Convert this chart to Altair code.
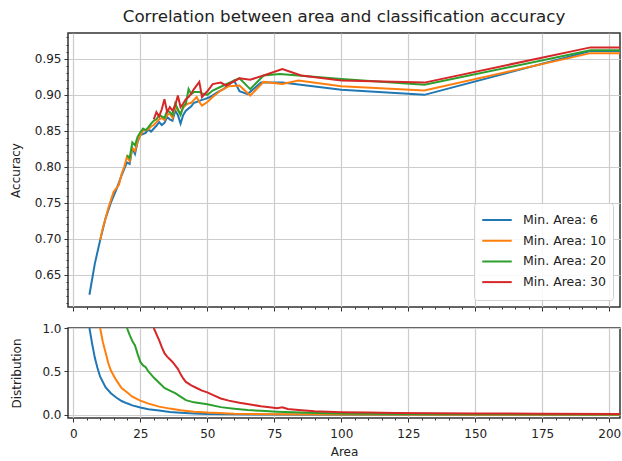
import altair as alt
import pandas as pd

SERIES = ["Min. Area: 6", "Min. Area: 10", "Min. Area: 20", "Min. Area: 30"]
COLORS = ["#1f77b4", "#ff7f0e", "#2ca02c", "#d62728"]

# ---- accuracy vs area ----
acc_area_6 = [6, 8, 10, 12, 14, 16, 18, 20, 21, 22, 23, 24, 25, 27, 28, 29, 31, 32, 33, 34, 35, 36, 37, 38,
              39, 40, 41, 42, 44, 45, 46, 48, 49, 51, 54, 56, 60, 62, 65, 70, 78, 100, 131, 193, 204]
acc_6 = [0.622, 0.665, 0.698, 0.728, 0.750, 0.768, 0.788, 0.806, 0.804, 0.826, 0.818, 0.835, 0.844, 0.847,
         0.852, 0.849, 0.857, 0.862, 0.858, 0.861, 0.869, 0.866, 0.864, 0.878, 0.872, 0.860, 0.872, 0.878,
         0.884, 0.889, 0.890, 0.893, 0.894, 0.897, 0.904, 0.908, 0.920, 0.905, 0.901, 0.917, 0.917, 0.907,
         0.900, 0.961, 0.961]

acc_area_10 = [10, 11, 12, 13, 15, 16, 17, 18, 19, 20, 21, 22, 23, 24, 25, 26, 28, 29, 30, 31, 32, 33, 34, 35,
               36, 37, 38, 39, 40, 41, 42, 43, 44, 45, 46, 47, 48, 50, 52, 55, 58, 62, 66, 71, 78, 84, 100,
               131, 193, 204]
acc_10 = [0.698, 0.715, 0.728, 0.742, 0.765, 0.770, 0.775, 0.790, 0.800, 0.814, 0.808, 0.826, 0.822, 0.836,
          0.844, 0.850, 0.852, 0.856, 0.858, 0.862, 0.866, 0.868, 0.865, 0.872, 0.874, 0.868, 0.884, 0.878,
          0.874, 0.882, 0.886, 0.888, 0.889, 0.893, 0.897, 0.890, 0.885, 0.890, 0.897, 0.906, 0.912, 0.913,
          0.899, 0.918, 0.915, 0.920, 0.912, 0.906, 0.958, 0.958]

acc_area_20 = [20, 21, 22, 23, 24, 25, 26, 27, 28, 29, 30, 31, 32, 33, 34, 35, 36, 37, 38, 39, 40, 41, 42, 43,
               44, 45, 47, 48, 50, 52, 56, 62, 66, 71, 77, 84, 100, 131, 193, 204]
acc_20 = [0.816, 0.812, 0.834, 0.830, 0.842, 0.848, 0.853, 0.851, 0.855, 0.860, 0.864, 0.866, 0.872, 0.870,
          0.868, 0.878, 0.876, 0.872, 0.888, 0.880, 0.872, 0.884, 0.888, 0.908, 0.901, 0.904, 0.904, 0.902,
          0.900, 0.906, 0.913, 0.923, 0.908, 0.927, 0.929, 0.927, 0.922, 0.914, 0.962, 0.962]

acc_area_30 = [30, 31, 32, 33, 34, 35, 36, 37, 38, 39, 40, 41, 42, 43, 44, 45, 47, 48, 50, 52, 55, 57, 62, 66,
               71, 78, 85, 100, 131, 193, 204]
acc_30 = [0.866, 0.876, 0.870, 0.880, 0.894, 0.876, 0.883, 0.878, 0.885, 0.899, 0.883, 0.888, 0.894, 0.897,
          0.902, 0.908, 0.918, 0.897, 0.905, 0.915, 0.917, 0.913, 0.923, 0.921, 0.927, 0.936, 0.927, 0.920,
          0.917, 0.966, 0.966]

# ---- distribution vs area ----
dist_area_6 = [6, 7, 8, 9, 10, 12, 14, 16, 18, 20, 22, 25, 28, 32, 36, 40, 45, 50, 60, 75, 100, 150, 204]
dist_6 = [1.0, 0.82, 0.66, 0.54, 0.44, 0.32, 0.25, 0.20, 0.16, 0.134, 0.11, 0.085, 0.066, 0.05, 0.035,
          0.026, 0.017, 0.011, 0.007, 0.004, 0.003, 0.002, 0.001]

dist_area_10 = [10, 11, 12, 13, 14, 16, 18, 20, 22, 25, 28, 32, 36, 40, 45, 50, 60, 75, 100, 150, 204]
dist_10 = [1.0, 0.84, 0.72, 0.60, 0.51, 0.40, 0.31, 0.26, 0.21, 0.165, 0.13, 0.096, 0.073, 0.055, 0.038,
           0.028, 0.015, 0.008, 0.005, 0.003, 0.002]

dist_area_20 = [20, 21, 22, 23, 24, 25, 26, 27, 28, 30, 32, 34, 36, 38, 40, 42, 45, 50, 55, 60, 65, 70, 76,
                85, 91, 100, 120, 150, 204]
dist_20 = [1.0, 0.92, 0.85, 0.80, 0.70, 0.61, 0.57, 0.55, 0.50, 0.43, 0.37, 0.31, 0.28, 0.25, 0.21, 0.17,
           0.145, 0.122, 0.09, 0.072, 0.057, 0.048, 0.038, 0.028, 0.023, 0.018, 0.011, 0.008, 0.005]

dist_area_30 = [30, 31, 32, 33, 34, 35, 36, 37, 38, 39, 40, 41, 42, 44, 46, 48, 50, 52, 55, 58, 62, 66, 70,
                74, 76, 78, 80, 84, 90, 100, 110, 120, 135, 150, 175, 204]
dist_30 = [1.0, 0.93, 0.86, 0.78, 0.71, 0.67, 0.64, 0.61, 0.57, 0.53, 0.47, 0.42, 0.38, 0.34, 0.31, 0.28,
           0.26, 0.23, 0.19, 0.165, 0.14, 0.12, 0.10, 0.085, 0.077, 0.088, 0.068, 0.058, 0.043, 0.032, 0.027,
           0.023, 0.02, 0.018, 0.014, 0.011]

x_major = [0, 25, 50, 75, 100, 125, 150, 175, 200]
x_minor = list(range(0, 201, 5))
acc_major = [0.65, 0.70, 0.75, 0.80, 0.85, 0.90, 0.95]
acc_minor = [round(0.61 + 0.01 * i, 2) for i in range(38)]
dist_major = [0.0, 0.5, 1.0]


def frame(pairs, xname, yname):
    rows = []
    for s, xs, ys in pairs:
        for a, v in zip(xs, ys):
            rows.append({"series": s, xname: a, yname: v})
    return pd.DataFrame(rows)


acc_df = frame([(SERIES[0], acc_area_6, acc_6), (SERIES[1], acc_area_10, acc_10),
                (SERIES[2], acc_area_20, acc_20), (SERIES[3], acc_area_30, acc_30)], "area", "acc")
dist_df = frame([(SERIES[0], dist_area_6, dist_6), (SERIES[1], dist_area_10, dist_10),
                 (SERIES[2], dist_area_20, dist_20), (SERIES[3], dist_area_30, dist_30)], "area", "dist")

FONT = "DejaVu Sans"
xscale = alt.Scale(domain=[-2, 204], nice=False, zero=False)
acc_scale = alt.Scale(domain=[0.605, 0.986], nice=False, zero=False)
dist_scale = alt.Scale(domain=[-0.035, 1.0], nice=False, zero=False)
cscale = alt.Scale(domain=SERIES, range=COLORS)

minor_axis = dict(labels=False, grid=False, domain=False, tickSize=2, title=None)

top_lines = alt.Chart(acc_df).mark_line(strokeWidth=2, clip=True).encode(
    x=alt.X("area:Q", scale=xscale,
            axis=alt.Axis(values=x_major, labels=False, title=None, grid=True)),
    y=alt.Y("acc:Q", scale=acc_scale,
            axis=alt.Axis(values=acc_major, format=".2f", title="Accuracy", grid=True, titlePadding=12)),
    color=alt.Color("series:N", scale=cscale, sort=SERIES,
                    legend=alt.Legend(title=None, orient="bottom-right", offset=7, symbolType="stroke",
                                      symbolSize=870, symbolStrokeWidth=2, labelFontSize=12.5,
                                      labelFont=FONT, labelColor="#222222", padding=7, rowPadding=0.7,
                                      clipHeight=20, labelOffset=10, strokeColor="#d0d0d0",
                                      fillColor="rgba(255,255,255,0.85)", cornerRadius=3)),
)
top_minor = alt.Chart(acc_df).mark_line(opacity=0).encode(
    x=alt.X("area:Q", scale=xscale, axis=alt.Axis(values=x_minor, orient="bottom", **minor_axis)),
    y=alt.Y("acc:Q", scale=acc_scale, axis=alt.Axis(values=acc_minor, orient="left", **minor_axis)),
)
top = alt.layer(top_lines, top_minor).resolve_axis(x="independent", y="independent").properties(
    width=552, height=274,
    title=alt.Title("Correlation between area and classification accuracy", fontSize=16.7, font=FONT,
                    fontWeight="normal", color="#222222", offset=7, anchor="middle", frame="group"),
)

bot_lines = alt.Chart(dist_df).mark_line(strokeWidth=2, clip=True).encode(
    x=alt.X("area:Q", scale=xscale, axis=alt.Axis(values=x_major, format="d", title="Area", grid=True,
                                                    labelPadding=6, titlePadding=7)),
    y=alt.Y("dist:Q", scale=dist_scale,
            axis=alt.Axis(values=dist_major, format=".1f", title="Distribution", grid=True, titlePadding=18)),
    color=alt.Color("series:N", scale=cscale, sort=SERIES, legend=None),
)
bot_minor = alt.Chart(dist_df).mark_line(opacity=0).encode(
    x=alt.X("area:Q", scale=xscale, axis=alt.Axis(values=x_minor, orient="bottom", **minor_axis)),
    y=alt.Y("dist:Q", scale=dist_scale, axis=alt.Axis(values=dist_major, orient="left", **minor_axis)),
)
bottom = alt.layer(bot_lines, bot_minor).resolve_axis(x="independent", y="independent").properties(
    width=552, height=90)

chart = alt.vconcat(top, bottom, spacing=21, bounds="flush").resolve_scale(color="independent").properties(
    padding={"left": 8, "top": 8, "right": 0, "bottom": 0},
).configure_view(
    stroke="#333333", strokeWidth=1.5
).configure_axis(
    labelFont=FONT, labelFontSize=12, labelColor="#222222", titleFont=FONT, titleFontSize=12,
    titleFontWeight="normal", titleColor="#222222", tickColor="#333333", tickSize=4, tickWidth=1,
    labelPadding=3, domain=False, gridColor="#cccccc", gridWidth=1.2,
)

chart.save("out.html", embed_options={"renderer": "svg", "actions": False})
